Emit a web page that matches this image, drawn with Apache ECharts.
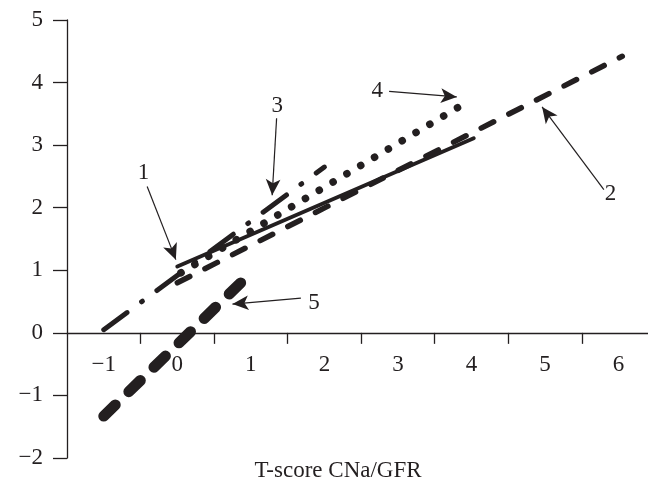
<!DOCTYPE html>
<html>
<head>
<meta charset="utf-8">
<script src="https://cdn.jsdelivr.net/npm/echarts@6/dist/echarts.min.js"></script>
<style>html,body{margin:0;padding:0;background:#fff;}#c{width:648px;height:481px;}</style>
</head>
<body>
<div id="c"></div>
<script>
// Tick labels / positions
const xTickLabels = [-1, 0, 1, 2, 3, 4, 5, 6];
const xTickMarks = [-0.5, 0.5, 1.5, 2.5, 3.5, 4.5, 5.5];
const yTickLabels = [-2, -1, 0, 1, 2, 3, 4, 5];
const xTitle = 'T-score CNa/GFR';

// Line 1 (solid)
const line1X = [0, 4.03];
const line1Y = [1.06, 3.11];
// Line 2 (dashed)
const line2X = [0, 6.05];
const line2Y = [0.8, 4.42];
// Line 3 (dash-dot)
const line3X = [-1, 2];
const line3Y = [0.05, 2.65];
// Line 4 (dotted)
const line4X = [0.05, 3.94];
const line4Y = [0.96, 3.69];
// Line 5 (heavy dashed)
const line5X = [-1.0, 0.88];
const line5Y = [-1.33, 0.82];

// Annotation labels and arrows
const annLabels = ['1', '2', '3', '4', '5'];
const annLabelX = [-0.46, 5.89, 1.36, 2.72, 1.86];
const annLabelY = [2.55, 2.22, 3.62, 3.86, 0.48];
const annStartX = [-0.41, 5.80, 1.35, 2.88, 1.68];
const annStartY = [2.34, 2.29, 3.43, 3.86, 0.555];
const annTipX = [-0.02, 4.96, 1.29, 3.80, 0.75];
const annTipY = [1.17, 3.61, 2.20, 3.77, 0.46];

const INK = '#231f20';
const FONT = '"Liberation Serif", "DejaVu Serif", serif';

const GRID_TOP = 20, GRID_BOTTOM = 23, H = 481;
const Y_MIN = -2, Y_MAX = 5;
const plotH = H - GRID_TOP - GRID_BOTTOM;
const zeroOffset = -(plotH * (0 - Y_MIN) / (Y_MAX - Y_MIN));

function pts(xs, ys) { return xs.map((x, i) => [x, ys[i]]); }

function lineSeries(xs, ys, width, dash) {
  return {
    type: 'line',
    data: pts(xs, ys),
    symbol: 'none',
    silent: true,
    animation: false,
    lineStyle: { color: INK, width: width, type: dash, cap: 'round', join: 'round' }
  };
}

const arrowLines = annLabels.map((l, i) => [
  { coord: [annStartX[i], annStartY[i]], symbol: 'none' },
  { coord: [annTipX[i], annTipY[i]], symbol: 'arrow', symbolSize: [11, 16] }
]);

const fmt = v => (v < 0 ? '\u2212' + Math.abs(v) : String(v));

const option = {
  animation: false,
  backgroundColor: '#fff',
  title: {
    text: xTitle,
    left: 338,
    top: 459,
    textAlign: 'center',
    padding: 0,
    textStyle: { fontFamily: FONT, fontSize: 23, fontWeight: 'normal', color: INK }
  },
  grid: { left: 67, right: 0, top: GRID_TOP, bottom: GRID_BOTTOM, containLabel: false },
  xAxis: {
    type: 'value',
    min: -1.5,
    max: 6.4,
    offset: zeroOffset,
    splitLine: { show: false },
    axisLine: { onZero: false, lineStyle: { color: INK, width: 1.3 } },
    axisTick: { show: true, inside: false, length: 11, customValues: xTickMarks, lineStyle: { color: INK, width: 1.3 } },
    axisLabel: {
      customValues: xTickLabels,
      margin: 21,
      fontFamily: FONT, fontSize: 23, color: INK,
      formatter: fmt
    }
  },
  yAxis: {
    type: 'value',
    min: Y_MIN,
    max: Y_MAX,
    interval: 1,
    splitLine: { show: false },
    axisLine: { onZero: false, lineStyle: { color: INK, width: 1.3 } },
    axisTick: { show: true, inside: false, length: 14, lineStyle: { color: INK, width: 1.3 } },
    axisLabel: {
      margin: 24,
      fontFamily: FONT, fontSize: 23, color: INK,
      formatter: fmt
    }
  },
  series: [
    lineSeries(line2X, line2Y, 5.5, [14, 17]),
    lineSeries(line1X, line1Y, 4, 'solid'),
    lineSeries(line3X, line3Y, 5, [29, 18, 1, 18]),
    lineSeries(line4X, line4Y, 7.5, [0.1, 16]),
    lineSeries(line5X, line5Y, 11, [16, 19]),
    {
      type: 'scatter',
      data: annLabels.map((l, i) => ({ value: [annLabelX[i], annLabelY[i]], name: l })),
      symbolSize: 1,
      itemStyle: { color: 'rgba(0,0,0,0)', opacity: 1 },
      silent: true,
      label: {
        show: true,
        position: 'inside',
        formatter: p => p.name,
        fontFamily: FONT, fontSize: 23, color: INK, opacity: 1,
        textBorderWidth: 0, textBorderColor: 'transparent'
      },
      markLine: {
        silent: true,
        animation: false,
        symbol: ['none', 'arrow'],
        label: { show: false },
        lineStyle: { color: INK, width: 1.2, type: 'solid', opacity: 1 },
        emphasis: { disabled: true },
        data: arrowLines
      }
    }
  ]
};

const chart = echarts.init(document.getElementById('c'), null, { renderer: 'canvas' });
chart.setOption(option);
</script>
</body>
</html>
